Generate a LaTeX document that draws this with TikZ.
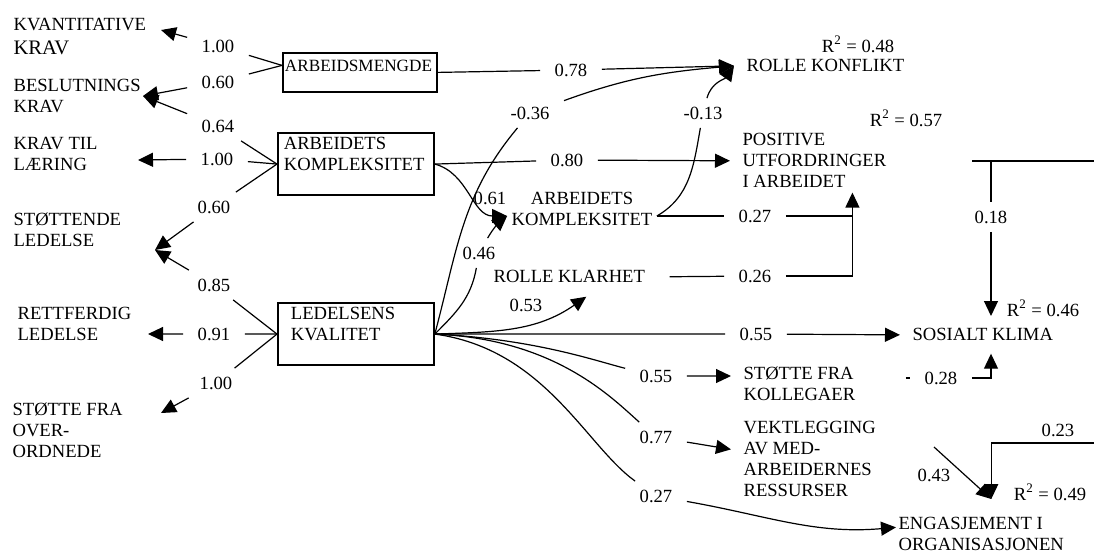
\documentclass[tikz,border=0pt]{standalone}
\usepackage{fontspec}
\setmainfont{Liberation Serif}
\usepackage{xcolor}
\usepackage{tikz}
\usetikzlibrary{positioning, arrows.meta, calc}

\tikzset{
  ind/.style={anchor=north west, align=left, inner sep=0pt},
  outc/.style={anchor=north west, align=left, inner xsep=6pt, inner ysep=2pt},
  mbox/.style={draw, line width=0.9pt, anchor=north west, align=left, inner xsep=3pt, inner ysep=2pt},
  val/.style={inner xsep=7pt, inner ysep=4pt},
  note/.style={inner sep=1pt},
  arr/.style={-{Triangle[length=7.5pt,width=7pt]}},
}

\begin{document}
\begin{tikzpicture}[x=0.5pt, y=-0.5pt, line width=0.6pt,
    every node/.append style={font=\fontsize{9.3}{10.5}\selectfont}]
  \useasboundingbox (0,0) rectangle (1094,554);

  % latent factors
  \node[mbox, inner xsep=1pt, inner ysep=3.5pt, text width=75pt, text depth=6.8pt,
        font=\fontsize{8.6}{10.5}\selectfont] (ab) at (282,52) {ARBEIDSMENGDE};
  \node[mbox, text width=72pt] (komp) at (277,132) {ARBEIDETS\\KOMPLEKSITET\\\mbox{}};
  \node[mbox, inner xsep=6.5pt, text width=65pt] (led) at (277,302) {LEDELSENS\\KVALITET\\\mbox{}};

  % indicators
  \node[ind] (kvant) at (13,18) {KVANTITATIVE\\[1.5pt]{\fontsize{10.3}{12}\selectfont KRAV}};
  \node[ind] (besl) at (13,79) {BESLUTNINGS\\KRAV};
  \node[ind] (krav) at (13,137) {KRAV TIL\\LÆRING};
  \node[ind] (stot) at (13,212) {STØTTENDE\\LEDELSE};
  \node[ind] (rett) at (17,307) {RETTFERDIG\\LEDELSE};
  \node[ind] (over) at (12,402) {STØTTE FRA\\OVER-\\ORDNEDE};

  \coordinate (kvantTip) at (161,30);
  \coordinate (beslTip) at (143,96);
  \coordinate (kravTip) at (138,160);
  \coordinate (stotTip) at (155,250);
  \coordinate (rettTip) at (148,334);
  \coordinate (overTip) at (161,413);

  \node[val] (v1) at (218,46) {1.00};
  \node[val] (v2) at (218,82) {0.60};
  \node[val] (v3) at (218,126) {0.64};
  \node[val] (v4) at (217,159) {1.00};
  \node[val] (v5) at (214,207) {0.60};
  \node[val] (v6) at (214,285) {0.85};
  \node[val] (v7) at (214,334) {0.91};
  \node[val] (v8) at (216,383) {1.00};

  \draw[arr] ([yshift=3.5pt]ab.west) -- (v1) -- (kvantTip);
  \draw[arr] ([yshift=3.5pt]ab.west) -- (v2) -- (beslTip);
  \draw[arr] (komp.west) -- (v3) -- (beslTip);
  \draw[arr] (komp.west) -- (v4) -- (kravTip);
  \draw[arr] (komp.west) -- (v5) -- (stotTip);
  \draw[arr] (led.west) -- (v6) -- (stotTip);
  \draw[arr] (led.west) -- (v7) -- (rettTip);
  \draw[arr] (led.west) -- (v8) -- (overTip);

  % outcomes
  \node[outc] (rk) at (734,55) {ROLLE KONFLIKT};
  \node[note] (rsq48) at (858,44) {R\textsuperscript{2} = 0.48};
  \node[outc] (pos) at (730,129) {POSITIVE\\UTFORDRINGER\\I ARBEIDET};
  \node[note] (rsq57) at (906,118) {R\textsuperscript{2} = 0.57};
  \node[outc, anchor=north, align=center, inner xsep=2pt] (komp2) at (582,188) {ARBEIDETS\\KOMPLEKSITET};
  \node[outc] (rkl) at (481,266) {ROLLE KLARHET};
  \node[outc, inner ysep=6pt] (sos) at (900,316) {SOSIALT KLIMA};
  \node[note] (rsq46) at (1043,308) {R\textsuperscript{2} = 0.46};
  \node[outc] (kol) at (731,362) {STØTTE FRA\\KOLLEGAER};
  \node[outc] (vek) at (731,417) {VEKTLEGGING\\AV MED-\\ARBEIDERNES\\RESSURSER};
  \node[outc, inner xsep=1pt] (eng) at (896,513) {ENGASJEMENT I\\ORGANISASJONEN};
  \node[note] (rsq49) at (1050,492) {R\textsuperscript{2} = 0.49};

  \node[val] (r78) at (571,70) {0.78};
  \node[val] (r80) at (567,160) {0.80};
  \node[val] (rm36) at (530,113) {-0.36};
  \node[val] (rm13) at (703,113) {-0.13};
  \node[note] (r61) at (490,198) {0.61};
  \node[val] (r46) at (479,253) {0.46};
  \node[val] (r27) at (755,216) {0.27};
  \node[val] (r26) at (755,276) {0.26};
  \node[note] (r53) at (526,305) {0.53};
  \node[val] (r55) at (756,334) {0.55};
  \node[val] (r55b) at (656,376) {0.55};
  \node[val] (r77) at (656,437) {0.77};
  \node[val] (r27b) at (656,496) {0.27};
  \node[val] (r18) at (991,217) {0.18};
  \node[val] (r28) at (941,378) {0.28};
  \node[note] (r43) at (934,475) {0.43};
  \node[note] (r23) at (1058,430) {0.23};

  \coordinate (posJ) at ([xshift=19pt]pos.south);
  \coordinate (sosTop) at (991,161);
  \coordinate (rEdge1) at (1094,161);
  \coordinate (rStub) at (972,161);
  \coordinate (rEdge2) at (1094,443);
  \coordinate (vekOut) at (934,447);
  \coordinate (engIn) at ([xshift=5pt,yshift=7pt]eng.north);

  % paths
  \draw[arr] (ab.east) -- (r78) -- (rk.west);
  \draw[arr] (komp.east) -- (r80) -- (pos.west);
  \draw[arr] (komp.east) to[out=-15,in=180] (komp2.west |- r27);
  \draw[arr] (led.east) to[out=45,in=-100] (r46) to[out=60,in=-140] (komp2.west |- r27);
  \draw[arr] (led.east) to[out=75,in=-130] (rm36) to[out=20,in=185] (rk.west);
  \draw[arr] (komp2.east |- r27) to[out=30,in=-100] (rm13) to[out=75,in=-125] (rk.west);
  \draw (komp2.east |- r27) -- (r27) -- (r27 -| posJ);
  \draw[shorten <=6pt] (rkl.east) -- (r26);
  \draw[arr] (r26) -- (r26 -| posJ) -- (posJ);
  \draw[arr] (led.east) to[out=2,in=-145] ([xshift=8.5pt,yshift=-4.5pt]rkl.south);
  \draw[arr] (led.east) -- (r55) -- (sos.west);
  \draw[arr] (led.east) .. controls +(100,5) and +(-60,-15) .. (r55b) -- (kol.west |- r55b);
  \draw[arr] (led.east) .. controls +(120,5) and +(-45,-40) .. (r77) -- ([yshift=5pt]vek.west);
  \draw[arr] (led.east) .. controls +(110,15) and +(-70,-50) .. (r27b) to[out=-10,in=185] ([yshift=3.5pt]eng.west);
  \draw (rEdge1) -- (rStub);
  \draw[arr] (sosTop) -- (r18) -- (sosTop |- sos.north);
  \draw[shorten <=19pt] (kol.east |- r28) -- (r28);
  \draw[arr] (r28) -- (r28 -| sosTop) -- (sosTop |- sos.south);
  \draw[arr] (vekOut) -- (engIn);
  \draw[arr] (rEdge2) -| (engIn);
\end{tikzpicture}
\end{document}
